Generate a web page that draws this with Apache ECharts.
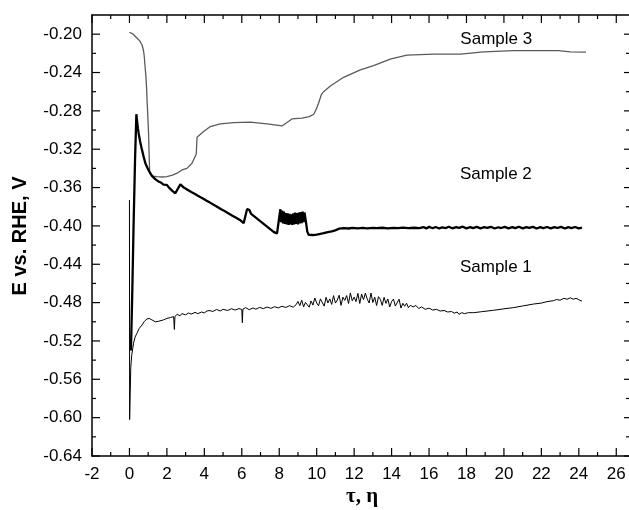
<!DOCTYPE html>
<html>
<head>
<meta charset="utf-8">
<script src="https://cdn.jsdelivr.net/npm/echarts@6/dist/echarts.min.js"></script>
<style>html,body{margin:0;padding:0;background:#fff;}#chart{width:629px;height:510px;}</style>
</head>
<body>
<div id="chart"></div>
<script>
// ---- data (time τ, η vs potential E vs. RHE, V) ----
var sample3 = [
  [0.00,-0.198],[0.20,-0.200],[0.40,-0.204],[0.55,-0.207],[0.67,-0.211],[0.75,-0.217],[0.79,-0.223],
  [0.84,-0.235],[0.88,-0.244],[0.92,-0.258],[0.94,-0.269],[0.98,-0.285],[1.02,-0.303],[1.05,-0.325],
  [1.08,-0.345],[1.25,-0.348],[1.47,-0.3486],[1.75,-0.349],[2.00,-0.3486],[2.30,-0.347],[2.54,-0.345],
  [2.81,-0.3416],[3.07,-0.340],[3.34,-0.3346],[3.57,-0.325],[3.59,-0.315],[3.61,-0.3075],[3.96,-0.3016],
  [4.32,-0.2964],[4.85,-0.2936],[5.56,-0.2922],[6.45,-0.2918],[7.35,-0.2936],[8.15,-0.2957],[8.68,-0.2884],
  [9.21,-0.2876],[9.60,-0.2860],[9.84,-0.2835],[9.98,-0.278],[10.10,-0.272],[10.25,-0.263],[10.37,-0.260],
  [10.73,-0.254],[11.44,-0.245],[12.33,-0.2373],[13.04,-0.2328],[13.93,-0.2261],[14.82,-0.2219],
  [16.24,-0.2209],[17.67,-0.2209],[18.91,-0.2185],[20.52,-0.2171],[22.92,-0.2171],[23.54,-0.2185],[24.38,-0.2188]
];
var sample2 = [
  [0.08,-0.530],[0.15,-0.470],[0.22,-0.400],[0.30,-0.330],[0.37,-0.2835],
  [0.40,-0.2894],[0.45,-0.2980],[0.49,-0.3033],[0.57,-0.3120],[0.67,-0.3207],[0.76,-0.3280],[0.85,-0.3346],
  [0.97,-0.3400],[1.11,-0.3450],[1.20,-0.3478],[1.28,-0.3490],[1.38,-0.3512],[1.47,-0.3520],[1.58,-0.3540],
  [1.70,-0.3550],[1.82,-0.3570],[2.00,-0.3572],[2.10,-0.3598],[2.20,-0.3610],[2.32,-0.3640],[2.45,-0.3659],
  [2.52,-0.3675],[2.62,-0.3600],[2.72,-0.3565],
  [2.80,-0.3560],[2.90,-0.3600],[3.00,-0.3582],[3.10,-0.3622],[3.20,-0.3605],[3.30,-0.3646],[3.40,-0.3628],
  [3.50,-0.3668],[3.60,-0.3650],[3.70,-0.3690],[3.80,-0.3672],[3.90,-0.3712],[4.00,-0.3694],[4.10,-0.3735],
  [4.20,-0.3717],[4.30,-0.3757],[4.40,-0.3740],[4.50,-0.3780],[4.60,-0.3762],[4.70,-0.3802],[4.80,-0.3785],
  [4.90,-0.3826],[5.00,-0.3806],[5.10,-0.3848],[5.20,-0.3830],[5.30,-0.3870],[5.40,-0.3851],[5.50,-0.3893],
  [5.60,-0.3874],[5.70,-0.3915],[5.80,-0.3896],[5.90,-0.3938],[6.00,-0.3919],[6.10,-0.3972],[6.28,-0.3826],
  [6.40,-0.3832],[6.50,-0.3875],[6.60,-0.3862],[6.70,-0.3906],[6.80,-0.3893],[6.90,-0.3938],[7.00,-0.3924],
  [7.10,-0.3969],[7.20,-0.3955],[7.30,-0.4000],[7.40,-0.3986],[7.50,-0.4031],[7.60,-0.4018],[7.70,-0.4062],
  [7.80,-0.4050],[7.88,-0.4080],[8.06,-0.3826],
  [8.10,-0.3960],[8.15,-0.3840],[8.20,-0.3975],[8.25,-0.3850],[8.30,-0.3980],[8.35,-0.3865],[8.40,-0.3985],
  [8.45,-0.3870],[8.50,-0.3990],[8.55,-0.3875],[8.60,-0.3985],[8.65,-0.3880],[8.70,-0.3990],[8.75,-0.3870],
  [8.80,-0.3985],[8.85,-0.3860],[8.90,-0.3980],[8.95,-0.3865],[9.00,-0.3985],[9.05,-0.3860],[9.10,-0.3975],
  [9.15,-0.3855],[9.20,-0.3970],[9.25,-0.3850],[9.30,-0.3960],[9.35,-0.3860],[9.42,-0.3950],[9.50,-0.4060],
  [9.57,-0.4094],[9.66,-0.4104],[9.80,-0.4095],[10.00,-0.4090],[10.20,-0.4082],[10.37,-0.4076],[10.60,-0.4065],
  [10.80,-0.4058],[10.95,-0.4050],[11.00,-0.4035],[11.20,-0.4028],[11.45,-0.4022],[11.70,-0.4027],[11.90,-0.4020],
  [12.20,-0.4025],[12.45,-0.4021],[12.70,-0.4026],[13.00,-0.4020],[13.20,-0.4024],[13.50,-0.4019],[13.80,-0.4025],
  [14.10,-0.4020],[14.35,-0.4023],[14.60,-0.4018],[14.90,-0.4024],[15.20,-0.4019],[15.50,-0.4023],[15.70,-0.4012],
  [15.85,-0.4026],[16.00,-0.4010],[16.20,-0.4024],[16.35,-0.4011],[16.55,-0.4027],[16.70,-0.4014],[16.90,-0.4022],
  [17.05,-0.4009],[17.25,-0.4025],[17.45,-0.4013],[17.60,-0.4021],[17.80,-0.4008],[18.00,-0.4026],[18.20,-0.4012],
  [18.35,-0.4023],[18.55,-0.4010],[18.75,-0.4025],[18.95,-0.4013],[19.10,-0.4020],[19.30,-0.4009],[19.50,-0.4027],
  [19.70,-0.4014],[19.85,-0.4022],[20.05,-0.4010],[20.25,-0.4025],[20.45,-0.4012],[20.60,-0.4023],[20.80,-0.4009],
  [21.00,-0.4026],[21.20,-0.4013],[21.35,-0.4021],[21.55,-0.4010],[21.75,-0.4027],[21.95,-0.4012],[22.10,-0.4024],
  [22.30,-0.4011],[22.50,-0.4026],[22.70,-0.4013],[22.85,-0.4022],[23.05,-0.4010],[23.25,-0.4027],[23.45,-0.4012],
  [23.60,-0.4024],[23.80,-0.4011],[24.00,-0.4026],[24.17,-0.4018]
];
var sample1 = [
  [0.00,-0.373],[0.01,-0.602],[0.04,-0.575],[0.07,-0.548],[0.12,-0.535],[0.22,-0.5224],[0.30,-0.516],
  [0.40,-0.512],[0.52,-0.507],[0.67,-0.5034],[0.80,-0.4995],[0.94,-0.497],[1.05,-0.4965],[1.20,-0.498],
  [1.38,-0.500],[1.55,-0.4995],[1.82,-0.498],[2.00,-0.4965],[2.20,-0.4955],[2.36,-0.4946],[2.40,-0.508],
  [2.43,-0.4945],[2.55,-0.4922],[2.70,-0.4938],[2.80,-0.4915],[3.00,-0.4928],[3.15,-0.4908],[3.30,-0.4920],
  [3.50,-0.4902],[3.65,-0.4915],[3.85,-0.4898],[4.00,-0.4908],[4.14,-0.4887],[4.30,-0.4883],[4.45,-0.4893],
  [4.65,-0.4872],[4.85,-0.4887],[5.00,-0.4870],[5.25,-0.4882],[5.45,-0.4864],[5.65,-0.4878],[5.85,-0.4862],
  [6.00,-0.4872],[6.03,-0.5010],[6.06,-0.4868],[6.20,-0.4852],[6.40,-0.4874],[6.60,-0.4856],[6.75,-0.4869],
  [6.95,-0.4850],[7.15,-0.4863],[7.35,-0.4846],[7.55,-0.4860],[7.75,-0.4843],[7.95,-0.4855],[8.15,-0.4838],
  [8.35,-0.4851],[8.55,-0.4832],[8.75,-0.4848],[8.90,-0.4822],
  [9.00,-0.4788],[9.10,-0.4831],[9.20,-0.4775],[9.30,-0.4845],[9.40,-0.4798],[9.50,-0.4778],[9.60,-0.4848],
  [9.70,-0.4783],[9.80,-0.4826],[9.90,-0.4752],[10.00,-0.4804],[10.10,-0.4833],[10.20,-0.4761],[10.30,-0.4779],
  [10.40,-0.4837],[10.50,-0.4745],[10.60,-0.4803],[10.70,-0.4761],[10.80,-0.4819],[10.90,-0.4727],[11.00,-0.4805],
  [11.10,-0.4773],[11.20,-0.4723],[11.30,-0.4829],[11.40,-0.4743],[11.50,-0.4777],[11.60,-0.4727],[11.70,-0.4809],
  [11.80,-0.4699],[11.90,-0.4781],[12.00,-0.4743],[12.10,-0.4789],[12.20,-0.4703],[12.30,-0.4809],[12.40,-0.4711],
  [12.50,-0.4769],[12.60,-0.4701],[12.70,-0.4764],[12.80,-0.4804],[12.90,-0.4700],[13.00,-0.4799],[13.10,-0.4743],
  [13.20,-0.4830],[13.30,-0.4738],[13.40,-0.4766],[13.50,-0.4829],[13.60,-0.4745],[13.70,-0.4808],[13.80,-0.4762],
  [13.90,-0.4846],[14.00,-0.4789],[14.10,-0.4763],[14.20,-0.4836],[14.30,-0.4820],[14.40,-0.4764],[14.50,-0.4857],
  [14.60,-0.4807],[14.70,-0.4838],[14.80,-0.4807],[14.90,-0.4853],[15.00,-0.4828],[15.15,-0.4845],[15.30,-0.4830],
  [15.45,-0.4862],[15.60,-0.4845],[15.80,-0.4870],[16.00,-0.4858],[16.20,-0.4878],[16.40,-0.4870],[16.60,-0.4888],
  [16.80,-0.4882],[17.00,-0.4898],[17.20,-0.4893],[17.35,-0.4910],[17.50,-0.4898],[17.60,-0.4922],[17.75,-0.4905],
  [17.90,-0.4915],[18.10,-0.4905],[18.38,-0.4905],[18.80,-0.4895],[19.45,-0.4880],[20.00,-0.4865],[20.52,-0.4852],
  [21.00,-0.4835],[21.58,-0.4815],[22.00,-0.4805],[22.30,-0.4790],[22.65,-0.4780],[22.80,-0.4768],[23.00,-0.4775],
  [23.20,-0.4755],[23.37,-0.4765],[23.55,-0.4750],[23.70,-0.4765],[23.85,-0.4755],[24.00,-0.4770],[24.17,-0.4785]
];
var labelTexts = ['Sample 1', 'Sample 2', 'Sample 3'];
var labelX = [19.57, 19.57, 19.59];
var labelY = [-0.4433, -0.3463, -0.2054];
var xMin = -2, xMax = 26.68, xMajor = 2;
var yMin = -0.64, yMax = -0.18, yMajor = 0.04;
var xTickValues = [-2,-1,0,1,2,3,4,5,6,7,8,9,10,11,12,13,14,15,16,17,18,19,20,21,22,23,24,25,26];
var yTickValues = [-0.64,-0.62,-0.60,-0.58,-0.56,-0.54,-0.52,-0.50,-0.48,-0.46,-0.44,-0.42,-0.40,-0.38,-0.36,-0.34,-0.32,-0.30,-0.28,-0.26,-0.24,-0.22,-0.20];
var xTitle = 'τ, η';
var yTitle = 'E vs. RHE, V';

// ---- chart ----
var chart = echarts.init(document.getElementById('chart'), null, {renderer: 'canvas'});
var black = '#000';
var sans = 'Liberation Sans, Arial, sans-serif';
function xAx(pos, showLabel) {
  return {
    type: 'value', position: pos, min: xMin, max: xMax, interval: xMajor,
    axisLine: {show: true, onZero: false, lineStyle: {color: black, width: 1.5}},
    axisTick: {show: false},
    axisLabel: {show: showLabel, margin: 10, color: black, fontSize: 17, fontFamily: sans, showMaxLabel: false,
      formatter: function (v) { return (Math.abs(v % 2) < 1e-6) ? String(Math.round(v)) : ''; }},
    splitLine: {show: false}
  };
}
function yAx(pos, showLabel, showLine) {
  return {
    type: 'value', position: pos, min: yMin, max: yMax, interval: yMajor,
    axisLine: {show: showLine, onZero: false, lineStyle: {color: black, width: 1.5}},
    axisTick: {show: false},
    axisLabel: {show: showLabel, margin: 10, color: black, fontSize: 17, fontFamily: sans, showMaxLabel: false,
      formatter: function (v) { return v.toFixed(2); }},
    splitLine: {show: false}
  };
}
function lineSeries(name, data, color, width) {
  return {
    name: name, type: 'line', data: data, xAxisIndex: 0, yAxisIndex: 0,
    showSymbol: false, symbol: 'none', clip: true,
    lineStyle: {color: color, width: width}
  };
}

chart.setOption({
  animation: false,
  backgroundColor: '#fff',
  grid: {left: 92, right: 0, top: 15, bottom: 54, containLabel: false},
  xAxis: [xAx('bottom', true), xAx('top', false)],
  yAxis: [yAx('left', true, true), yAx('right', false, false)],
  series: [
    lineSeries('Sample 3', sample3, '#5a5a5a', 1.3),
    lineSeries('Sample 2', sample2, '#000', 2.3),
    lineSeries('Sample 1', sample1, '#000', 1)
  ]
});

// ---- overlay: tick marks and texts, positioned through the chart's own scales ----
function px(x, y) { return chart.convertToPixel({gridIndex: 0}, [x, y]); }
var gfx = [];
var tickStyle = {stroke: black, lineWidth: 1.2, fill: null};
xTickValues.forEach(function (v) {
  var major = Math.abs(v % 2) < 1e-6;
  var len = major ? 8 : 4;
  var b = px(v, yMin), t = px(v, yMax);
  gfx.push({type: 'line', z: 100, silent: true, shape: {x1: b[0], y1: b[1], x2: b[0], y2: b[1] - len}, style: tickStyle});
  gfx.push({type: 'line', z: 100, silent: true, shape: {x1: t[0], y1: t[1], x2: t[0], y2: t[1] + len}, style: tickStyle});
});
yTickValues.forEach(function (v, i) {
  var major = (i % 2) === 0;
  var l = px(xMin, v), r = px(xMax, v);
  gfx.push({type: 'line', z: 100, silent: true, shape: {x1: l[0], y1: l[1], x2: l[0] + (major ? 8 : 4), y2: l[1]}, style: tickStyle});
  gfx.push({type: 'line', z: 100, silent: true, shape: {x1: r[0], y1: r[1], x2: r[0] - (major ? 5 : 3), y2: r[1]}, style: tickStyle});
});
labelTexts.forEach(function (t, i) {
  var p = px(labelX[i], labelY[i]);
  gfx.push({type: 'text', x: p[0], y: p[1], silent: true, z: 100,
    style: {text: t, fill: black, font: '17px ' + sans, align: 'center', verticalAlign: 'middle',
      textAlign: 'center', textVerticalAlign: 'middle'}});
});
gfx.push({type: 'text', x: 362, y: 497, silent: true, z: 100,
  style: {text: xTitle, fill: black, font: 'bold 21px "Liberation Serif", "Times New Roman", serif',
    align: 'center', verticalAlign: 'middle', textAlign: 'center', textVerticalAlign: 'middle'}});
gfx.push({type: 'text', x: 20, y: 236, rotation: Math.PI / 2, silent: true, z: 100,
  style: {text: yTitle, fill: black, font: 'bold 20px ' + sans,
    align: 'center', verticalAlign: 'middle', textAlign: 'center', textVerticalAlign: 'middle'}});
chart.setOption({graphic: gfx});
</script>
</body>
</html>
